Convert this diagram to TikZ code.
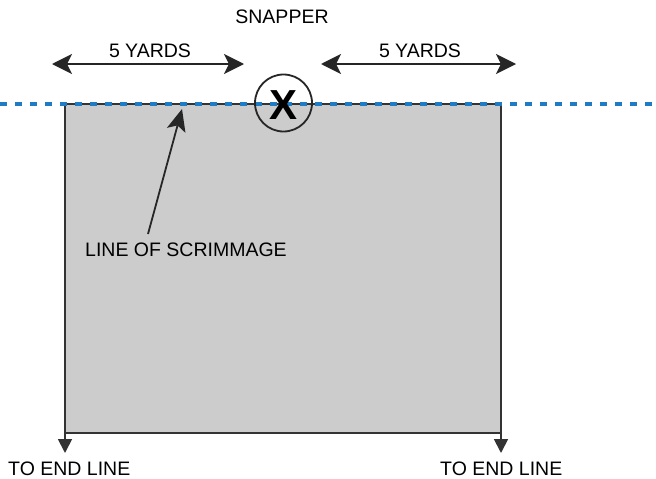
\documentclass[tikz,border=0pt]{standalone}
\usepackage{fontspec}
\setmainfont{Liberation Sans}
\usetikzlibrary{arrows.meta}
\definecolor{losblue}{HTML}{1F7BC4}
\definecolor{fieldgrey}{HTML}{CCCCCC}
\definecolor{edgegrey}{HTML}{333333}
\tikzset{
  lbl/.style={font=\fontsize{19.5}{22}\selectfont, inner sep=0pt, text=black},
  yardarrow/.style={line width=1.8pt, draw=black!85, {Stealth[length=20pt,width=20pt,inset=5pt]}-{Stealth[length=20pt,width=20pt,inset=5pt]}},
  endarrow/.style={line width=1.8pt, draw=edgegrey, -{Triangle[length=14pt,width=14pt]}},
  pointer/.style={line width=1.8pt, draw=black!85, -{Stealth[length=22pt,width=19pt,inset=5pt]}},
  field/.style={fill=fieldgrey, draw=edgegrey, line width=2.4pt},
  los/.style={draw=losblue, line width=4pt, dash pattern=on 7pt off 8pt},
}
\begin{document}
\begin{tikzpicture}[x=1pt,y=-1pt]
\useasboundingbox (0,0) rectangle (656,479);
\fill[white] (0,0) rectangle (656,479);
% field
\draw[field] (65,104) rectangle (501,433);
\coordinate (blend) at (65,453);
\coordinate (brend) at (501,453);
\draw[endarrow] (65,420) -- (blend);
\draw[endarrow] (501,420) -- (brend);
% line of scrimmage
\coordinate (losl) at (0,104);
\coordinate (losr) at (656,104);
\draw[line width=1.2pt, edgegrey] (65,104) -- (501,104);
\draw[los] (losl) -- (losr);
% snapper
\node[circle, draw=black!85, line width=1.8pt, minimum size=57pt, inner sep=0pt] (snap) at (283.5,103) {};
\node[font=\fontsize{42}{42}\selectfont\bfseries, inner sep=0pt] (x) at (283.5,105.5) {X};
\node[lbl] (snapper) at (282,17) {SNAPPER};
% yards
\coordinate (y1a) at (52,64);
\coordinate (y1b) at (244,64);
\coordinate (y2a) at (321,64);
\coordinate (y2b) at (516,64);
\draw[yardarrow] (y1a) -- (y1b);
\draw[yardarrow] (y2a) -- (y2b);
\node[lbl] (yd1) at (150,51) {5 YARDS};
\node[lbl] (yd2) at (420,51) {5 YARDS};
% pointer
\node[lbl, anchor=west] (loslbl) at (85,250) {LINE OF SCRIMMAGE};
\coordinate (ptail) at (148,234);
\coordinate (phead) at (182,109);
\draw[pointer] (ptail) -- (phead);
% end labels
\node[lbl, anchor=west] (end1) at (8,468.5) {TO END LINE};
\node[lbl, anchor=west] (end2) at (440,468.5) {TO END LINE};
\end{tikzpicture}
\end{document}
